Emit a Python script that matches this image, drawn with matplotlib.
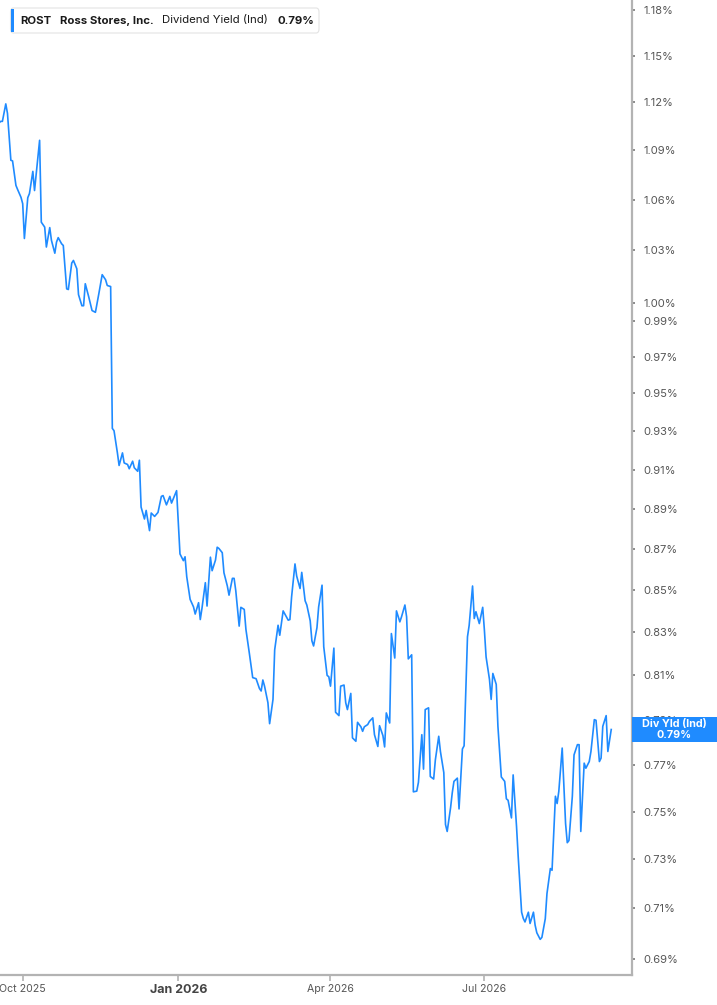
import numpy as np
import pandas as pd
import matplotlib
matplotlib.use('Agg')
from matplotlib import pyplot as plt
import matplotlib.dates as mdates
from matplotlib.patches import FancyBboxPatch, Rectangle
from matplotlib.ticker import FixedLocator, NullLocator, FuncFormatter

plt.rcParams['font.family'] = ['Inter', 'DejaVu Sans']

# --- data (days counted from 2025-10-01, yield in %) ---
base_date = '2025-10-01'
day_offsets = [-14, -13, -12, -10, -9, -7, -6, -4, -3, -1, 0, 1, 3, 4, 6, 7, 10, 11, 13, 14,
               16, 17, 19, 20, 21, 23, 24, 26, 27, 29, 30, 32, 33, 35, 36, 37, 39, 41, 43, 45,
               47, 49, 50, 52, 53, 54, 56, 57, 59, 60, 62, 63, 65, 66, 68, 69, 70, 72, 73, 75,
               76, 78, 80, 82, 83, 85, 87, 88, 91, 92, 93, 95, 96, 97, 99, 101, 102, 104, 105, 106,
               108, 109, 111, 112, 114, 115, 116, 118, 119, 121, 122, 124, 125, 126, 128, 129, 131, 132, 134, 136,
               138, 140, 141, 142, 143, 145, 146, 148, 149, 151, 152, 154, 155, 157, 158, 159, 161, 162, 164, 165,
               167, 168, 170, 171, 172, 174, 175, 177, 178, 180, 181, 182, 184, 185, 187, 188, 190, 191, 192, 194,
               195, 197, 198, 200, 201, 202, 204, 205, 207, 208, 210, 211, 213, 214, 215, 217, 218, 220, 221, 223,
               224, 226, 227, 228, 230, 231, 233, 234, 236, 237, 238, 240, 241, 243, 244, 246, 247, 249, 250, 251,
               253, 254, 255, 257, 258, 260, 261, 263, 264, 266, 267, 268, 270, 272, 273, 274, 276, 277, 278, 280,
               281, 283, 285, 286, 287, 289, 290, 292, 293, 295, 296, 297, 299, 300, 302, 303, 304, 306, 307, 309,
               310, 312, 313, 315, 316, 317, 319, 321, 322, 323, 325, 326, 328, 329, 330, 332, 333, 335, 336, 338,
               339, 341, 342, 343, 345, 346, 348]
div_yield = [1.107, 1.108, 1.108, 1.119, 1.113, 1.0839, 1.0835, 1.0686, 1.0661, 1.0614,
             1.0576, 1.037, 1.0612, 1.0637, 1.0771, 1.0655, 1.0962, 1.0466, 1.0437, 1.032,
             1.0434, 1.0359, 1.0284, 1.0349, 1.0375, 1.0339, 1.0329, 1.0079, 1.0075, 1.0227,
             1.0242, 1.0194, 1.0046, 0.9983, 0.9983, 1.0108, 1.0035, 0.9956, 0.9946, 1.005,
             1.016, 1.0131, 1.0098, 1.0092, 0.9314, 0.9302, 0.9186, 0.9121, 0.9186, 0.9134,
             0.9126, 0.9104, 0.9143, 0.9109, 0.9091, 0.9148, 0.8909, 0.8849, 0.8892, 0.8791,
             0.8879, 0.8862, 0.8882, 0.8963, 0.8967, 0.892, 0.8963, 0.8929, 0.8992, 0.8837,
             0.8676, 0.8643, 0.8662, 0.8565, 0.8456, 0.842, 0.8386, 0.844, 0.836, 0.8413,
             0.8536, 0.8424, 0.866, 0.8594, 0.8646, 0.8709, 0.8703, 0.8682, 0.8584, 0.852,
             0.8476, 0.8557, 0.8557, 0.8497, 0.8329, 0.8418, 0.8408, 0.8313, 0.8203, 0.809,
             0.8085, 0.804, 0.8029, 0.8079, 0.8051, 0.7976, 0.7882, 0.7991, 0.8218, 0.8333,
             0.8286, 0.8401, 0.8386, 0.8357, 0.836, 0.8468, 0.8627, 0.8568, 0.8508, 0.8586,
             0.8449, 0.8429, 0.8354, 0.826, 0.8236, 0.8322, 0.842, 0.8524, 0.8233, 0.81,
             0.8094, 0.8051, 0.8226, 0.7933, 0.7918, 0.8051, 0.8056, 0.7976, 0.7945, 0.8018,
             0.7819, 0.7804, 0.7888, 0.7868, 0.7848, 0.7868, 0.7878, 0.7892, 0.7908, 0.7833,
             0.7781, 0.7873, 0.7829, 0.7779, 0.793, 0.7885, 0.8294, 0.818, 0.8401, 0.8349,
             0.8373, 0.8429, 0.8373, 0.8176, 0.8195, 0.7584, 0.7587, 0.7625, 0.7833, 0.7682,
             0.7945, 0.7953, 0.765, 0.7639, 0.7722, 0.7826, 0.7759, 0.7667, 0.7445, 0.7416,
             0.7516, 0.758, 0.7629, 0.7643, 0.7511, 0.777, 0.7784, 0.8279, 0.8333, 0.852,
             0.8365, 0.8397, 0.8341, 0.8418, 0.831, 0.8185, 0.8082, 0.7991, 0.8109, 0.8059,
             0.787, 0.7648, 0.7629, 0.7554, 0.7548, 0.7473, 0.7657, 0.7437, 0.731, 0.7085,
             0.706, 0.7046, 0.7085, 0.704, 0.7085, 0.7033, 0.7003, 0.6977, 0.6985, 0.7059,
             0.716, 0.7262, 0.7255, 0.7565, 0.7534, 0.7586, 0.7774, 0.7449, 0.7369, 0.7378,
             0.7565, 0.7744, 0.7789, 0.7789, 0.7416, 0.7708, 0.7686, 0.7715, 0.7759, 0.79,
             0.7897, 0.7715, 0.773, 0.787, 0.7918, 0.7759, 0.7856]

ytick_vals = [0.69, 0.71, 0.73, 0.75, 0.77, 0.79, 0.81, 0.83, 0.85, 0.87, 0.89, 0.91,
              0.93, 0.95, 0.97, 0.99, 1.00, 1.03, 1.06, 1.09, 1.12, 1.15, 1.18]
xtick_dates = ['2025-10-01', '2026-01-01', '2026-04-01', '2026-07-01']
xtick_labels = ['Oct 2025', 'Jan 2026', 'Apr 2026', 'Jul 2026']

ticker_name = 'ROST'
company_name = 'Ross Stores, Inc.'
metric_name = 'Dividend Yield (Ind)'
last_label = 'Div Yld (Ind)'

line_color = '#1f8bff'
spine_color = '#b3b3b3'

dates = pd.Timestamp(base_date) + pd.to_timedelta(day_offsets, unit='D')

W, H = 717, 1005
fig = plt.figure(figsize=(W / 100, H / 100), dpi=100)
ax = fig.add_axes([0, (H - 974.7) / H, 631.7 / W, 974.7 / H])

ax.plot(dates, div_yield, color=line_color, linewidth=1.2, solid_joinstyle='round')

ax.set_yscale('log')
ax.set_ylim(0.6839, 1.1867)
x0 = mdates.date2num(pd.Timestamp(base_date))
ax.set_xlim(x0 - 13.42, x0 + 360.1)

# spines
for s in ['top', 'left']:
    ax.spines[s].set_visible(False)
for s in ['right', 'bottom']:
    ax.spines[s].set_color(spine_color)
    ax.spines[s].set_linewidth(1.6)

# y axis on right
ax.yaxis.tick_right()
ax.yaxis.set_major_locator(FixedLocator(ytick_vals))
ax.yaxis.set_minor_locator(NullLocator())
ax.yaxis.set_major_formatter(FuncFormatter(lambda v, p: '%.2f%%' % v))
ax.tick_params(axis='y', which='major', direction='out', length=2.5, width=1.2,
               color='#777777', labelsize=8, labelcolor='#555555', pad=6)

# x axis
ax.set_xticks([mdates.date2num(pd.Timestamp(d)) for d in xtick_dates])
ax.set_xticklabels(xtick_labels)
ax.tick_params(axis='x', direction='out', length=4, width=1.2, color=spine_color,
               labelsize=7.6, labelcolor='#555555', pad=3)
for lab in ax.get_xticklabels():
    if lab.get_text().startswith('Jan'):
        lab.set_fontweight('bold')
        lab.set_fontsize(9)
        lab.set_color('#444444')
ax.minorticks_off()

# header box top-left
hdr = FancyBboxPatch((10.5 / W, 1 - 33 / H), 308.5 / W, 25 / H,
                     boxstyle='round,pad=0,rounding_size=0.004',
                     transform=fig.transFigure, facecolor='white',
                     edgecolor='#e3e3e3', linewidth=0.8, zorder=5)
fig.add_artist(hdr)
fig.add_artist(Rectangle((10.5 / W, 1 - 32 / H), 3 / W, 23 / H, transform=fig.transFigure,
                         facecolor=line_color, edgecolor='none', zorder=6))
ty = 1 - 20.5 / H
fig.text(20.5 / W, ty, ticker_name, fontsize=8.2, fontweight='bold', color='#1a1a1a', va='center', zorder=7)
fig.text(60.5 / W, ty, company_name, fontsize=8.2, fontweight='bold', color='#1a1a1a', va='center', zorder=7)
fig.text(162.5 / W, ty, metric_name, fontsize=8.2, color='#1a1a1a', va='center', zorder=7)
fig.text(277.5 / W, ty, '%.2f%%' % div_yield[-1], fontsize=8.2, fontweight='bold', color='#1a1a1a',
         va='center', zorder=7)

# last value tag on the right axis (covers the 0.79% tick label, as in the source)
fig.canvas.draw()
y_pix = ax.transData.transform((x0, div_yield[-1]))[1]
box_h = 25.0
fig.add_artist(Rectangle((631.7 / W, (y_pix - box_h / 2) / H), (W - 631.7) / W, box_h / H,
                         transform=fig.transFigure, facecolor=line_color, edgecolor='none', zorder=8))
fig.text((631.7 + W) / 2 / W, y_pix / H, '%s\n%.2f%%' % (last_label, div_yield[-1]),
         fontsize=7.8, fontweight='bold', color='white', ha='center', va='center',
         linespacing=1.05, zorder=9)

fig.savefig('out.png', dpi=100, facecolor='white')
